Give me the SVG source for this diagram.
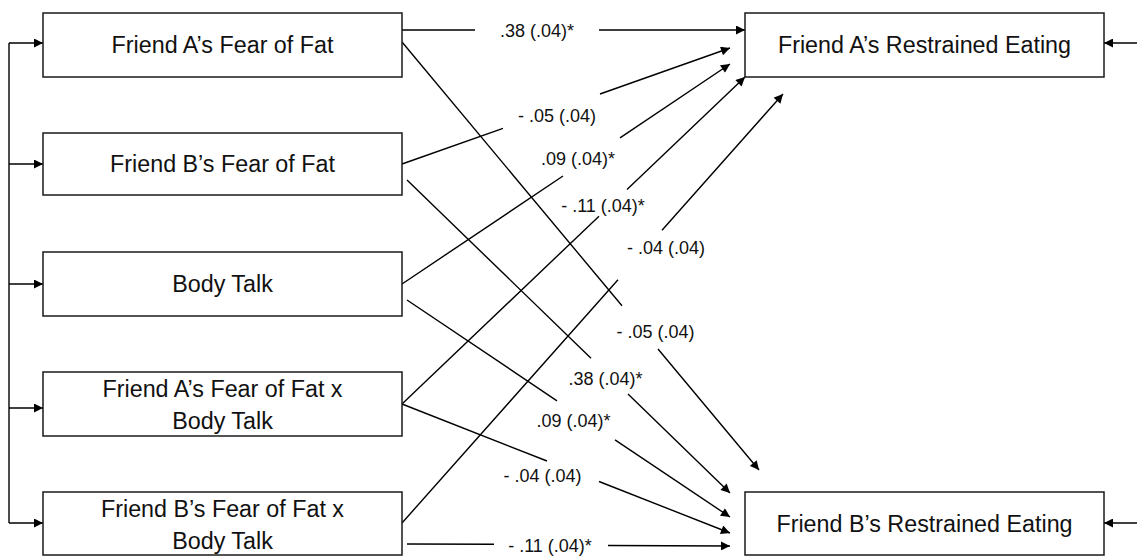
<svg xmlns="http://www.w3.org/2000/svg" width="1137" height="556" viewBox="0 0 1137 556">
<defs>
<marker id="ah" viewBox="0 0 10 10" refX="10" refY="5" markerWidth="10" markerHeight="9" markerUnits="userSpaceOnUse" orient="auto">
<path d="M0,0 L10,5 L0,10 Z" fill="#000"/>
</marker>
</defs>
<style>
.box{fill:#fff;stroke:#1a1a1a;stroke-width:1.5}
.bt{font-family:"Liberation Sans",Arial,sans-serif;font-size:23.3px;fill:#111;text-anchor:middle}
.lb{font-family:"Liberation Sans",Arial,sans-serif;font-size:18px;fill:#111;text-anchor:middle}
.ln{fill:none;stroke:#000;stroke-width:1.4}
</style>
<rect width="1137" height="556" fill="#fff"/>
<g id="connectors">
<path class="ln" d="M9,43 L9,523"/>
<path class="ln" d="M9,43 L43,43" marker-end="url(#ah)"/>
<path class="ln" d="M9,164 L43,164" marker-end="url(#ah)"/>
<path class="ln" d="M9,284 L43,284" marker-end="url(#ah)"/>
<path class="ln" d="M9,408 L43,408" marker-end="url(#ah)"/>
<path class="ln" d="M9,523 L43,523" marker-end="url(#ah)"/>
<path class="ln" d="M1137,43 L1104,43" marker-end="url(#ah)"/>
<path class="ln" d="M1137,523 L1104,523" marker-end="url(#ah)"/>
<path class="ln" d="M402,30 L475,30 M599,30 L745,30" marker-end="url(#ah)"/>
<path class="ln" d="M402,164 L503,128.3 M600,94 L730,48" marker-end="url(#ah)"/>
<path class="ln" d="M402,284 L563,176 M620,137.8 L730,64" marker-end="url(#ah)"/>
<path class="ln" d="M402,404 L599,216.2 M627,189.5 L745,77" marker-end="url(#ah)"/>
<path class="ln" d="M402,523 L618,279.8 M662,230.2 L783,94" marker-end="url(#ah)"/>
<path class="ln" d="M402,42 L622,305.8 M658,349 L759,470" marker-end="url(#ah)"/>
<path class="ln" d="M407,180 L591,358.3 M628,394 L730,493" marker-end="url(#ah)"/>
<path class="ln" d="M407,300 L557,400.8 M615,439.8 L730,517" marker-end="url(#ah)"/>
<path class="ln" d="M402,404 L547,461 M599,481.5 L730,533" marker-end="url(#ah)"/>
<path class="ln" d="M407,544 L494,544.3 M608,545.5 L730,546" marker-end="url(#ah)"/>
<text class="lb" x="537" y="36.5">.38 (.04)*</text>
<text class="lb" x="557" y="121.5">- .05 (.04)</text>
<text class="lb" x="578" y="164.5">.09 (.04)*</text>
<text class="lb" x="603" y="211.5">- .11 (.04)*</text>
<text class="lb" x="666" y="253.5">- .04 (.04)</text>
<text class="lb" x="655.5" y="337.5">- .05 (.04)</text>
<text class="lb" x="605.5" y="384.5">.38 (.04)*</text>
<text class="lb" x="573.5" y="426.5">.09 (.04)*</text>
<text class="lb" x="542.5" y="481.5">- .04 (.04)</text>
<text class="lb" x="550" y="551.5">- .11 (.04)*</text>
</g>
<g id="n1"><rect class="box" x="43" y="13" width="359" height="64"/><text class="bt" x="222.5" y="53">Friend A’s Fear of Fat</text></g>
<g id="n2"><rect class="box" x="43" y="133" width="359" height="62"/><text class="bt" x="222.5" y="172">Friend B’s Fear of Fat</text></g>
<g id="n3"><rect class="box" x="43" y="252" width="359" height="64"/><text class="bt" x="222.5" y="292">Body Talk</text></g>
<g id="n4"><rect class="box" x="43" y="372" width="359" height="64"/><text class="bt" x="222.5" y="397">Friend A’s Fear of Fat x</text><text class="bt" x="222.5" y="429">Body Talk</text></g>
<g id="n5"><rect class="box" x="43" y="492" width="359" height="63"/><text class="bt" x="222.5" y="517">Friend B’s Fear of Fat x</text><text class="bt" x="222.5" y="549">Body Talk</text></g>
<g id="n6"><rect class="box" x="745" y="13" width="359" height="64"/><text class="bt" x="924.5" y="53">Friend A’s Restrained Eating</text></g>
<g id="n7"><rect class="box" x="745" y="492" width="359" height="63"/><text class="bt" x="924.5" y="532">Friend B’s Restrained Eating</text></g>
</svg>
